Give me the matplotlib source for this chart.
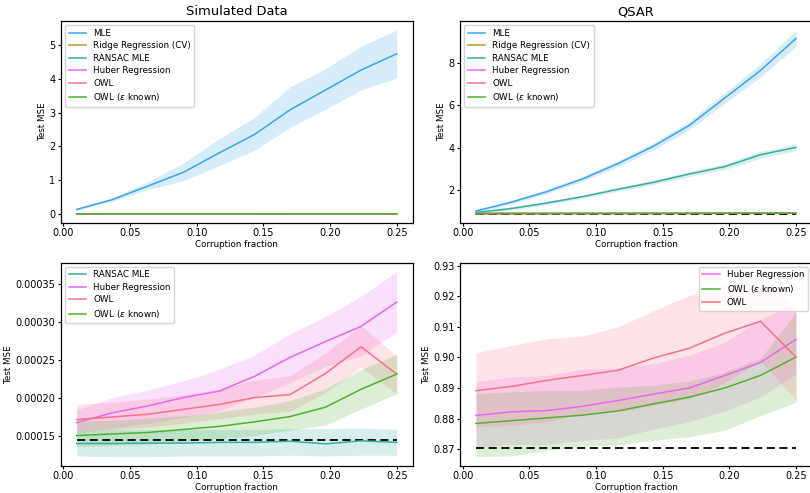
import numpy as np
import matplotlib
matplotlib.use("Agg")
import matplotlib.pyplot as plt
import seaborn as sns

# ---------------- data ----------------
corruption = [0.01, 0.0367, 0.0633, 0.09, 0.1167, 0.1433, 0.17, 0.1967, 0.2233, 0.25]

# Simulated data
sim_mle = [0.13, 0.42, 0.82, 1.23, 1.80, 2.35, 3.08, 3.67, 4.26, 4.74]
sim_mle_lo = [0.10, 0.37, 0.72, 0.98, 1.42, 1.88, 2.56, 3.10, 3.67, 4.02]
sim_mle_hi = [0.16, 0.48, 0.95, 1.50, 2.22, 2.85, 3.76, 4.30, 4.97, 5.44]
sim_ridge = [0.00042, 0.00043, 0.00044, 0.00045, 0.00046, 0.00047, 0.00048, 0.00049, 0.00050, 0.00051]
sim_ransac = [1.395e-4, 1.395e-4, 1.40e-4, 1.40e-4, 1.41e-4, 1.41e-4, 1.425e-4, 1.39e-4, 1.43e-4, 1.41e-4]
sim_ransac_lo = [1.23e-4, 1.22e-4, 1.22e-4, 1.23e-4, 1.23e-4, 1.23e-4, 1.24e-4, 1.23e-4, 1.24e-4, 1.24e-4]
sim_ransac_hi = [1.57e-4, 1.58e-4, 1.58e-4, 1.58e-4, 1.58e-4, 1.58e-4, 1.59e-4, 1.59e-4, 1.60e-4, 1.58e-4]
sim_huber = [1.67e-4, 1.80e-4, 1.89e-4, 2.00e-4, 2.085e-4, 2.28e-4, 2.53e-4, 2.74e-4, 2.94e-4, 3.26e-4]
sim_huber_lo = [1.53e-4, 1.60e-4, 1.66e-4, 1.74e-4, 1.83e-4, 2.00e-4, 2.20e-4, 2.41e-4, 2.55e-4, 2.87e-4]
sim_huber_hi = [1.84e-4, 2.00e-4, 2.10e-4, 2.22e-4, 2.37e-4, 2.56e-4, 2.84e-4, 3.07e-4, 3.34e-4, 3.66e-4]
sim_owl = [1.71e-4, 1.745e-4, 1.78e-4, 1.845e-4, 1.91e-4, 2.00e-4, 2.04e-4, 2.32e-4, 2.67e-4, 2.31e-4]
sim_owl_lo = [1.57e-4, 1.58e-4, 1.61e-4, 1.66e-4, 1.72e-4, 1.78e-4, 1.82e-4, 2.07e-4, 2.40e-4, 2.05e-4]
sim_owl_hi = [1.91e-4, 1.94e-4, 1.98e-4, 2.04e-4, 2.11e-4, 2.23e-4, 2.29e-4, 2.59e-4, 2.95e-4, 2.55e-4]
sim_owlk = [1.50e-4, 1.52e-4, 1.54e-4, 1.58e-4, 1.62e-4, 1.68e-4, 1.75e-4, 1.875e-4, 2.11e-4, 2.31e-4]
sim_owlk_lo = [1.35e-4, 1.37e-4, 1.38e-4, 1.42e-4, 1.46e-4, 1.50e-4, 1.57e-4, 1.64e-4, 1.85e-4, 2.05e-4]
sim_owlk_hi = [1.69e-4, 1.70e-4, 1.73e-4, 1.76e-4, 1.81e-4, 1.875e-4, 1.96e-4, 2.12e-4, 2.37e-4, 2.57e-4]
sim_true = 1.443e-4

# QSAR data
qsar_mle = [1.00, 1.42, 1.92, 2.52, 3.25, 4.07, 5.05, 6.35, 7.64, 9.16]
qsar_mle_lo = [0.94, 1.33, 1.82, 2.40, 3.11, 3.90, 4.85, 6.10, 7.33, 8.78]
qsar_mle_hi = [1.06, 1.51, 2.02, 2.64, 3.39, 4.24, 5.25, 6.60, 7.95, 9.55]
qsar_ridge = [0.885, 0.886, 0.887, 0.888, 0.889, 0.890, 0.891, 0.892, 0.893, 0.894]
qsar_ransac = [0.93, 1.12, 1.38, 1.68, 2.03, 2.36, 2.75, 3.10, 3.66, 4.01]
qsar_ransac_lo = [0.88, 1.05, 1.30, 1.60, 1.94, 2.26, 2.63, 2.97, 3.50, 3.85]
qsar_ransac_hi = [0.98, 1.19, 1.46, 1.76, 2.12, 2.46, 2.87, 3.23, 3.82, 4.17]
qsar_huber = [0.8810, 0.8822, 0.8826, 0.8840, 0.8859, 0.8880, 0.8900, 0.8941, 0.8983, 0.9059]
qsar_huber_lo = [0.8705, 0.8715, 0.8715, 0.8728, 0.8737, 0.8765, 0.8790, 0.8825, 0.8870, 0.8945]
qsar_huber_hi = [0.8920, 0.8936, 0.8941, 0.8961, 0.8965, 0.8979, 0.9007, 0.9050, 0.9124, 0.9180]
qsar_owl = [0.8891, 0.8905, 0.8925, 0.8941, 0.8958, 0.8998, 0.9030, 0.9079, 0.9118, 0.9001]
qsar_owl_lo = [0.8773, 0.8778, 0.8789, 0.8816, 0.8822, 0.8843, 0.8865, 0.8917, 0.8990, 0.8860]
qsar_owl_hi = [0.9015, 0.9039, 0.9061, 0.9070, 0.9100, 0.9153, 0.9202, 0.9240, 0.9280, 0.9148]
qsar_owlk = [0.8784, 0.8793, 0.8802, 0.8811, 0.8825, 0.8848, 0.8870, 0.8900, 0.8941, 0.9001]
qsar_owlk_lo = [0.8675, 0.8678, 0.8697, 0.8710, 0.8713, 0.8729, 0.8740, 0.8762, 0.8809, 0.8854]
qsar_owlk_hi = [0.8882, 0.8887, 0.8892, 0.8892, 0.8903, 0.8909, 0.8922, 0.8952, 0.8996, 0.9148]
qsar_true = 0.8704

x_ticks = [0.0, 0.05, 0.10, 0.15, 0.20, 0.25]
x_ticklabels = ["0.00", "0.05", "0.10", "0.15", "0.20", "0.25"]
sim_top_yticks = [0, 1, 2, 3, 4, 5]
qsar_top_yticks = [2, 4, 6, 8]
sim_bottom_yticks = [0.00015, 0.00020, 0.00025, 0.00030, 0.00035]
sim_bottom_yticklabels = ["0.00015", "0.00020", "0.00025", "0.00030", "0.00035"]
qsar_bottom_yticks = [0.87, 0.88, 0.89, 0.90, 0.91, 0.92, 0.93]
qsar_bottom_yticklabels = ["0.87", "0.88", "0.89", "0.90", "0.91", "0.92", "0.93"]

OWLK = r"OWL ($\varepsilon$ known)"

# ---------------- style ----------------
husl = sns.color_palette("husl", 6)
colors = {
    "MLE": husl[4],
    "Ridge Regression (CV)": husl[1],
    "RANSAC MLE": husl[3],
    "Huber Regression": husl[5],
    "OWL": husl[0],
    OWLK: husl[2],
}

TICK_FS = 7.0
LABEL_FS = 6.3
LEGEND_FS = 6.3
TITLE_FS = 9.4
LW = 1.1

plt.rcParams["font.family"] = ["DejaVu Sans"]
plt.rcParams["mathtext.fontset"] = "dejavusans"

fig = plt.figure(figsize=(8.1, 4.93), dpi=100)
W = 352 / 810
ax_tl = fig.add_axes([60.7 / 810, 1 - 223 / 493, W, 202 / 493])
ax_tr = fig.add_axes([460 / 810, 1 - 223 / 493, W, 202 / 493])
ax_bl = fig.add_axes([60.7 / 810, 1 - 466 / 493, W, 203.5 / 493])
ax_br = fig.add_axes([460 / 810, 1 - 466 / 493, W, 203.5 / 493])


def draw(ax, name, mean, lo=None, hi=None):
    c = colors[name]
    if lo is not None:
        ax.fill_between(corruption, lo, hi, color=c, alpha=0.2, linewidth=0)
    ax.plot(corruption, mean, color=c, lw=LW, label=name, zorder=3)


def finish(ax, true_val, legend_loc, title=None):
    ax.plot([corruption[0], corruption[-1]], [true_val, true_val], color="black",
            lw=1.3, ls=(0, (4.5, 2.5)), zorder=2)
    ax.set_xticks(x_ticks)
    ax.set_xticklabels(x_ticklabels)
    ax.tick_params(labelsize=TICK_FS, length=2.4, width=0.8, pad=1.3)
    ax.set_xlabel("Corruption fraction", fontsize=LABEL_FS, labelpad=1.3)
    ax.set_ylabel("Test MSE", fontsize=LABEL_FS, labelpad=2.0)
    for s in ax.spines.values():
        s.set_linewidth(0.9)
    ax.legend(loc=legend_loc, fontsize=LEGEND_FS, handlelength=2.0,
              borderpad=0.4, labelspacing=0.4, handletextpad=0.8,
              borderaxespad=0.5)
    if title:
        ax.set_title(title, fontsize=TITLE_FS, pad=4)


# Simulated data, all methods
draw(ax_tl, "MLE", sim_mle, sim_mle_lo, sim_mle_hi)
draw(ax_tl, "Ridge Regression (CV)", sim_ridge)
draw(ax_tl, "RANSAC MLE", sim_ransac, sim_ransac_lo, sim_ransac_hi)
draw(ax_tl, "Huber Regression", sim_huber, sim_huber_lo, sim_huber_hi)
draw(ax_tl, "OWL", sim_owl, sim_owl_lo, sim_owl_hi)
draw(ax_tl, OWLK, sim_owlk, sim_owlk_lo, sim_owlk_hi)
finish(ax_tl, sim_true, "upper left", "Simulated Data")
ax_tl.set_yticks(sim_top_yticks)

# QSAR, all methods
draw(ax_tr, "MLE", qsar_mle, qsar_mle_lo, qsar_mle_hi)
draw(ax_tr, "Ridge Regression (CV)", qsar_ridge)
draw(ax_tr, "RANSAC MLE", qsar_ransac, qsar_ransac_lo, qsar_ransac_hi)
draw(ax_tr, "Huber Regression", qsar_huber, qsar_huber_lo, qsar_huber_hi)
draw(ax_tr, "OWL", qsar_owl, qsar_owl_lo, qsar_owl_hi)
draw(ax_tr, OWLK, qsar_owlk, qsar_owlk_lo, qsar_owlk_hi)
finish(ax_tr, qsar_true, "upper left", "QSAR")
ax_tr.set_yticks(qsar_top_yticks)

# Simulated data, robust methods only
draw(ax_bl, "RANSAC MLE", sim_ransac, sim_ransac_lo, sim_ransac_hi)
draw(ax_bl, "Huber Regression", sim_huber, sim_huber_lo, sim_huber_hi)
draw(ax_bl, "OWL", sim_owl, sim_owl_lo, sim_owl_hi)
draw(ax_bl, OWLK, sim_owlk, sim_owlk_lo, sim_owlk_hi)
finish(ax_bl, sim_true, "upper left")
ax_bl.set_yticks(sim_bottom_yticks)
ax_bl.set_yticklabels(sim_bottom_yticklabels)

# QSAR, robust methods only
draw(ax_br, "Huber Regression", qsar_huber, qsar_huber_lo, qsar_huber_hi)
draw(ax_br, OWLK, qsar_owlk, qsar_owlk_lo, qsar_owlk_hi)
draw(ax_br, "OWL", qsar_owl, qsar_owl_lo, qsar_owl_hi)
finish(ax_br, qsar_true, "upper right")
ax_br.set_yticks(qsar_bottom_yticks)
ax_br.set_yticklabels(qsar_bottom_yticklabels)

fig.savefig("out.png", dpi=100)
